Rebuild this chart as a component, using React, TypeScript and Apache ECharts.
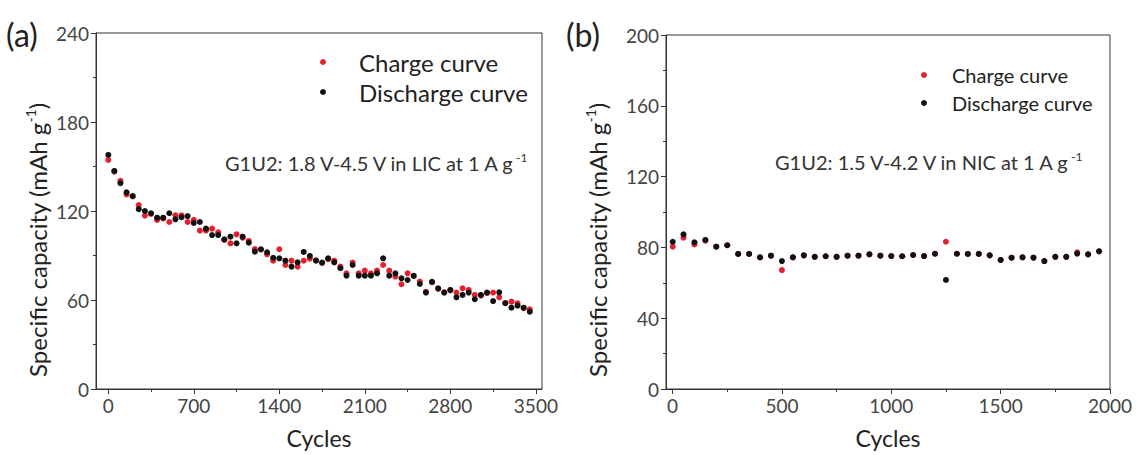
import React, { useEffect, useRef } from "react";
import * as echarts from "echarts";

// ---------- Panel (a) data ----------
const CYCLES_A = [1, 50, 100, 150, 200, 250, 300, 350, 400, 450, 500, 550, 600, 650, 700, 750, 800, 850, 900, 950,
  1000, 1050, 1100, 1150, 1200, 1250, 1300, 1350, 1400, 1450, 1500, 1550, 1600, 1650, 1700, 1750, 1800, 1850, 1900, 1950,
  2000, 2050, 2100, 2150, 2200, 2250, 2300, 2350, 2400, 2450, 2500, 2550, 2600, 2650, 2700, 2750, 2800, 2850, 2900, 2950,
  3000, 3050, 3100, 3150, 3200, 3250, 3300, 3350, 3400, 3450];
const CHARGE_A = [154.4, 146.5, 140.3, 131.2, 129.8, 124, 116.9, 118, 114, 115, 112.6, 117.1, 117.1, 112.6, 114, 106.8, 106.8, 108.1, 105.6, 100.5,
  98.2, 104.3, 102, 99.8, 94.4, 94, 90.8, 86.5, 94.2, 83.6, 86.5, 82.5, 86.5, 87.9, 86.8, 85, 87.5, 86.5, 82.5, 78,
  85.2, 78, 79.8, 78, 79.8, 83.6, 79.8, 75.8, 70.6, 78, 76, 72.4, 65.5, 72, 67.5, 65.2, 66.5, 65, 67.9, 66.8,
  63.4, 63, 64.8, 65, 61.8, 58, 58.9, 57.8, 54.5, 53.7];
const DISCHARGE_A = [157.8, 147, 138.7, 132.6, 130.1, 121.2, 120, 118.5, 115.5, 115.5, 118.5, 114.4, 115.8, 116.6, 111.9, 112.6, 108.1, 103.8, 103.8, 100.9,
  102.7, 98.2, 102.7, 98.6, 92.6, 94.2, 92.2, 88.5, 88.1, 86.5, 82.5, 85.4, 92.4, 89.7, 86.5, 85.2, 88.1, 85.4, 81.4, 76.4,
  83.6, 76.4, 76.4, 76.4, 78, 88.1, 76.4, 78, 74.6, 73.5, 76.4, 70.8, 65, 72.2, 67.9, 65, 66.8, 61.8, 63.4, 65,
  60.5, 63.4, 65, 59.3, 65.2, 57.8, 54.8, 56.2, 54.8, 52.1];

// ---------- Panel (b) data ----------
const CYCLES_B = [1, 50, 100, 150, 200, 250, 300, 350, 400, 450, 500, 550, 600, 650, 700, 750, 800, 850, 900, 950,
  1000, 1050, 1100, 1150, 1200, 1250, 1300, 1350, 1400, 1450, 1500, 1550, 1600, 1650, 1700, 1750, 1800, 1850, 1900, 1950];
const CHARGE_B = [80.4, 85.5, 81.7, 83.8, 80.4, 81.2, 76.3, 76.3, 74.4, 75.3, 67.2, 74.4, 75.5, 74.7, 75, 74.7, 75.3, 75.3, 76.1, 75.3,
  75.1, 75, 75.7, 75.1, 76.4, 83.2, 76.4, 76.3, 76.3, 75.5, 72.9, 74.2, 74.4, 74.2, 72.3, 74.7, 74.7, 77.2, 76.1, 77.8];
const DISCHARGE_B = [83.2, 87.4, 82.9, 84.2, 80.4, 81.2, 76.3, 76.3, 74.4, 75.3, 72.3, 74.4, 75.5, 74.7, 75, 74.7, 75.3, 75.3, 76.1, 75.3,
  75.1, 75, 75.7, 75.1, 76.4, 61.6, 76.4, 76.3, 76.3, 75.5, 72.9, 74.2, 74.4, 74.2, 72.3, 74.7, 74.7, 76.5, 76.1, 77.8];

// ---------- Ticks ----------
const X_TICKS_A = [0, 700, 1400, 2100, 2800, 3500];
const X_MINOR_A = [350, 1050, 1750, 2450, 3150];
const X_TICKS_B = [0, 500, 1000, 1500, 2000];
const X_MINOR_B = [250, 750, 1250, 1750];

const SERIES_NAMES = ["Charge curve", "Discharge curve"];
const RED = "#e3202c";
const BLACK = "#111111";
const AXIS_COLOR = "#333333";
const LABEL_COLOR = "#444444";
const FONT = "Lato, 'Open Sans', sans-serif";

const pairs = (xs: number[], ys: number[]) => xs.map((x, i) => [x, ys[i]]);

export default function App() {
  const ref = useRef<HTMLDivElement>(null);
  useEffect(() => {
    if (!ref.current) return;
    const chart = echarts.init(ref.current, undefined, { renderer: "svg" });

    const majorX = (gridIndex: number, min: number, max: number, ticks: number[]) => ({
      type: "value", gridIndex, min, max, position: "bottom",
      axisLine: { show: true, onZero: false, lineStyle: { color: AXIS_COLOR, width: 1 } },
      axisTick: { show: true, inside: false, length: 5, customValues: ticks, lineStyle: { color: AXIS_COLOR } },
      axisLabel: {
        show: true, customValues: ticks, margin: 7, fontSize: 19, color: LABEL_COLOR, fontFamily: FONT,
        formatter: (v: number) => String(v),
      },
      splitLine: { show: false },
    });
    const minorX = (gridIndex: number, min: number, max: number, ticks: number[]) => ({
      type: "value", gridIndex, min, max, position: "bottom",
      axisLine: { show: false, onZero: false },
      axisTick: { show: true, inside: false, length: 3, customValues: ticks, lineStyle: { color: AXIS_COLOR } },
      axisLabel: { show: false },
      splitLine: { show: false },
    });
    const yAx = (gridIndex: number, max: number, interval: number) => ({
      type: "value", gridIndex, min: 0, max, interval,
      axisLine: { show: true, onZero: false, lineStyle: { color: AXIS_COLOR, width: 1 } },
      axisTick: { show: true, inside: false, length: 5, lineStyle: { color: AXIS_COLOR } },
      minorTick: { show: true, splitNumber: 2, length: 3, lineStyle: { color: AXIS_COLOR } },
      axisLabel: { margin: 7, fontSize: 19, color: LABEL_COLOR, fontFamily: FONT },
      splitLine: { show: false },
    });

    const ylabel = (x: number) => ({
      type: "text", x, y: 240, rotation: Math.PI / 2,
      style: {
        text: "Specific capacity (mAh g{s|-1})",
        fontSize: 24, fontFamily: FONT, fill: "#222",
        align: "center", verticalAlign: "middle",
        rich: { s: { fontSize: 14, fontFamily: FONT, fill: "#222", padding: [0, 0, 13, 0] } },
      },
    });
    const note = (x: number, y: number, text: string, fs: number) => ({
      type: "text", x, y,
      style: {
        text: text + "{s|-1}", fontSize: fs, fontFamily: FONT, fill: "#333",
        align: "left", verticalAlign: "middle",
        rich: { s: { fontSize: 12, fontFamily: FONT, fill: "#333", padding: [0, 0, 11, 0] } },
      },
    });

    const scatter = (name: string, color: string, xi: number, yi: number, data: number[][]) => ({
      type: "scatter", name, xAxisIndex: xi, yAxisIndex: yi, data,
      symbol: "circle", symbolSize: 6, itemStyle: { color, opacity: 1 },
    });

    chart.setOption({
      animation: false,
      grid: [
        { left: 96, top: 33, width: 446, height: 356, show: true, borderColor: AXIS_COLOR, borderWidth: 1, backgroundColor: "transparent" },
        { left: 666, top: 35, width: 444, height: 354, show: true, borderColor: AXIS_COLOR, borderWidth: 1, backgroundColor: "transparent" },
      ],
      xAxis: [
        majorX(0, -100, 3550, X_TICKS_A),
        minorX(0, -100, 3550, X_MINOR_A),
        majorX(1, -30, 2000, X_TICKS_B),
        minorX(1, -30, 2000, X_MINOR_B),
      ],
      yAxis: [yAx(0, 240, 60), yAx(1, 200, 40)],
      legend: [
        {
          data: SERIES_NAMES, orient: "vertical", left: 320, top: 50, padding: 0, itemWidth: 6, itemHeight: 6, itemGap: 6,
          icon: "circle",
          textStyle: { fontSize: 24, lineHeight: 24, fontFamily: FONT, color: "#222", padding: [0, 0, 0, 28] },
        },
        {
          data: SERIES_NAMES, orient: "vertical", left: 921, top: 65, padding: 0, itemWidth: 6, itemHeight: 6, itemGap: 8,
          icon: "circle",
          textStyle: { fontSize: 20, lineHeight: 20, fontFamily: FONT, color: "#222", padding: [0, 0, 0, 20] },
        },
      ],
      series: [
        scatter(SERIES_NAMES[0], RED, 0, 0, pairs(CYCLES_A, CHARGE_A)),
        scatter(SERIES_NAMES[1], BLACK, 0, 0, pairs(CYCLES_A, DISCHARGE_A)),
        scatter(SERIES_NAMES[0], RED, 2, 1, pairs(CYCLES_B, CHARGE_B)),
        scatter(SERIES_NAMES[1], BLACK, 2, 1, pairs(CYCLES_B, DISCHARGE_B)),
      ],
      graphic: [
        { type: "text", x: 6, y: 34, style: { text: "(a)", fontSize: 32, fontFamily: FONT, fill: "#222", verticalAlign: "middle" } },
        { type: "text", x: 566, y: 34, style: { text: "(b)", fontSize: 32, fontFamily: FONT, fill: "#222", verticalAlign: "middle" } },
        ylabel(37),
        ylabel(597),
        { type: "text", x: 319, y: 438, style: { text: "Cycles", fontSize: 23, fontFamily: FONT, fill: "#222", align: "center", verticalAlign: "middle" } },
        { type: "text", x: 888, y: 438, style: { text: "Cycles", fontSize: 23, fontFamily: FONT, fill: "#222", align: "center", verticalAlign: "middle" } },
        note(225, 163, "G1U2: 1.8 V-4.5 V in LIC at 1 A g", 20),
        note(775, 162, "G1U2: 1.5 V-4.2 V in NIC at 1 A g", 20),
      ],
    });
    return () => chart.dispose();
  }, []);
  return <div ref={ref} style={{ position: "fixed", left: 0, top: 0, width: 1137, height: 455, background: "#fff" }} />;
}
